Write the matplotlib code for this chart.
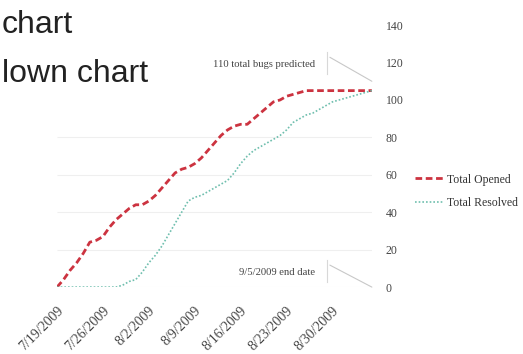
import numpy as np
import pandas as pd
import matplotlib
matplotlib.use("Agg")
import matplotlib.pyplot as plt
from matplotlib.transforms import ScaledTranslation

# daily cumulative counts, 7/19/2009 .. 9/5/2009
start_date = "2009-07-19"
total_opened = [0, 4, 9, 13, 18, 24, 25, 27, 32, 36, 39, 42, 44, 44, 46, 49, 53, 57,
                61, 63, 64, 66, 69, 73, 77, 81, 84, 86, 87, 87, 90, 93, 96, 99, 100,
                102, 103, 104, 105, 105, 105, 105, 105, 105, 105, 105, 105, 105, 105]
total_resolved = [0, 0, 0, 0, 0, 0, 0, 0, 0, 0, 1, 3, 4, 8, 13, 17, 22, 28, 34, 40,
                  46, 48, 49, 51, 53, 55, 57, 61, 66, 70, 73, 75, 77, 79, 81, 84, 88,
                  90, 92, 93, 95, 97, 99, 100, 101, 102, 103, 104, 105]
tick_dates = ["2009-07-19", "2009-07-26", "2009-08-02", "2009-08-09",
              "2009-08-16", "2009-08-23", "2009-08-30"]
tick_labels = ["7/19/2009", "7/26/2009", "8/2/2009", "8/9/2009",
               "8/16/2009", "8/23/2009", "8/30/2009"]
y_ticks = [0, 20, 40, 60, 80, 100, 120, 140]
y_grid = [0, 20, 40, 60, 80]
predicted_total = 110

dates = pd.date_range(start_date, periods=len(total_opened))
serif = "Liberation Serif"

fig = plt.figure(figsize=(5.23, 3.54), dpi=100)
ax = fig.add_axes([0.109, 0.189, 0.602, 0.740])

ax.hlines(y_grid, dates[0], dates[-1], color="#efefef", lw=0.8, zorder=0)
ax.plot(dates, total_opened, color="#cc3340", lw=2.0, dashes=(2.4, 1.3),
        label="Total Opened")
ax.plot(dates, total_resolved, color="#6fbfae", lw=1.2, dashes=(1.0, 1.2),
        label="Total Resolved")

ax.set_xlim(dates[0], dates[-1])
ax.set_ylim(0, 140)
ax.set_yticks(y_ticks)
ax.yaxis.tick_right()
ax.set_xticks(pd.to_datetime(tick_dates))
ax.set_xticklabels(tick_labels, rotation=45, ha="right", rotation_mode="anchor")
ax.tick_params(axis="both", length=0, labelcolor="#444444")
ax.tick_params(axis="y", pad=10, labelsize=8.5)
ax.tick_params(axis="x", pad=12, labelsize=10)
for lab in ax.get_xticklabels() + ax.get_yticklabels():
    lab.set_fontfamily(serif)
for s in ax.spines.values():
    s.set_visible(False)

leg = ax.legend(loc="center left", bbox_to_anchor=(0.774, 0.46),
                bbox_transform=fig.transFigure, frameon=False,
                prop={"family": serif, "size": 8.5}, handlelength=2.3,
                handletextpad=0.4, labelspacing=0.95)
for t in leg.get_texts():
    t.set_color("#333333")

# callouts pointing at the end date
def callout(text, yval, dy):
    px = 1 / fig.dpi
    ax.annotate(text, xy=(dates[-1], yval), xytext=(-57, dy),
                textcoords="offset pixels", ha="right", va="center",
                fontfamily=serif, fontsize=7.7, color="#444444", annotation_clip=False)
    ax.annotate("", xy=(dates[-1], yval), xytext=(-42, dy + 7),
                textcoords="offset pixels", annotation_clip=False,
                arrowprops=dict(arrowstyle="-", color="#c8c8c8", lw=0.8,
                                shrinkA=0, shrinkB=0))
    tr = ax.transData + ScaledTranslation(-45 * px, 0, fig.dpi_scale_trans)
    ax.plot([dates[-1], dates[-1]], [yval + (dy - 10) / 1.87, yval + (dy + 12) / 1.87],
            transform=tr, color="#d8d8d8", lw=0.8, clip_on=False)

callout("110 total bugs predicted", predicted_total, 17)
callout("9/5/2009 end date", 0, 15)

fig.text(0.003, 0.907, "chart", fontsize=23, family="Liberation Sans",
         color="#222222", va="baseline")
fig.text(0.003, 0.768, "lown chart", fontsize=23, family="Liberation Sans",
         color="#222222", va="baseline")

fig.savefig("out.png", dpi=100)
